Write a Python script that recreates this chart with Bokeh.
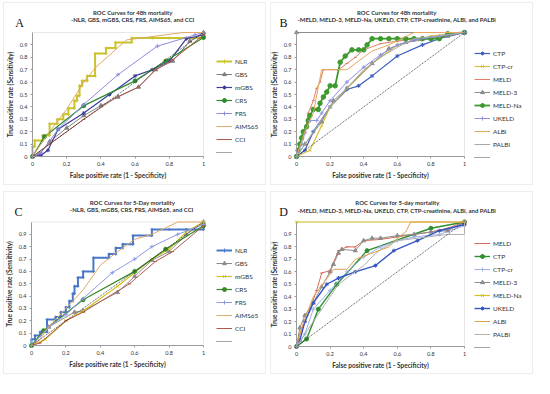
from bokeh.plotting import figure
from bokeh.layouts import gridplot
from bokeh.models import (Range1d, FixedTicker, CustomJSTickFormatter, Legend,
                          LegendItem, Label, BoxAnnotation)
from bokeh.embed import file_html
from bokeh.resources import INLINE

# ---------------- DATA ----------------
X_TICKS = [0, 0.2, 0.4, 0.6, 0.8, 1.0]
Y_TICKS = [0, 0.1, 0.2, 0.3, 0.4, 0.5, 0.6, 0.7, 0.8, 0.9]

TITLE_A = ["ROC Curves for 48h  mortality", "-NLR, GBS, mGBS, CRS, FRS, AIMS65,  and CCI"]
TITLE_B = ["ROC Curves for 48h  mortality", "-MELD, MELD-3, MELD-Na, UKELD, CTP, CTP-creatinine,  ALBi, and PALBi"]
TITLE_C = ["ROC Curves for 5-Day mortality", "-NLR, GBS, mGBS, CRS, FRS, AIMS65,  and CCI"]
TITLE_D = ["ROC Curves for 5-day mortality", "-MELD, MELD-3, MELD-Na, UKELD, CTP, CTP-creatinine,  ALBi, and PALBi"]

DIAG_X = [0, 1]
DIAG_Y = [0, 1]

# Panel A: 48h, NLR ... CCI
A_NLR_X = [0, 0, 0.013, 0.013, 0.06, 0.06, 0.1, 0.1, 0.145, 0.145, 0.18, 0.18, 0.21, 0.21, 0.245, 0.245,
           0.26, 0.26, 0.275, 0.275, 0.29, 0.29, 0.32, 0.32, 0.366, 0.366, 0.43, 0.43, 0.485, 0.485,
           0.58, 0.58, 0.7, 0.8, 0.9, 1.0, 1.0]
A_NLR_Y = [0, 0.08, 0.08, 0.13, 0.13, 0.17, 0.17, 0.265, 0.265, 0.30, 0.30, 0.34, 0.34, 0.39, 0.39, 0.45,
           0.45, 0.49, 0.49, 0.57, 0.57, 0.61, 0.61, 0.65, 0.65, 0.83, 0.83, 0.875, 0.875, 0.92,
           0.92, 0.955, 0.955, 0.955, 0.955, 0.955, 1.0]
A_GBS_X = [0, 0.04, 0.1, 0.2, 0.3, 0.4, 0.5, 0.62, 0.72, 0.82, 0.92, 1.0]
A_GBS_Y = [0, 0.02, 0.12, 0.23, 0.33, 0.41, 0.48, 0.56, 0.70, 0.77, 0.93, 1.0]
A_MGBS_X = [0, 0.05, 0.09, 0.15, 0.3, 0.45, 0.6, 0.7, 0.8, 0.9, 1.0]
A_MGBS_Y = [0, 0.01, 0.05, 0.22, 0.35, 0.50, 0.65, 0.70, 0.77, 0.95, 0.98]
A_CRS_X = [0, 0.07, 0.3, 0.6, 0.78, 1.0]
A_CRS_Y = [0, 0.16, 0.41, 0.61, 0.77, 0.96]
A_FRS_X = [0, 0.05, 0.15, 0.3, 0.5, 0.73, 0.95, 1.0]
A_FRS_Y = [0, 0.03, 0.22, 0.42, 0.66, 0.89, 0.98, 1.0]
A_AIMS_X = [0, 0.1, 0.2, 0.3, 0.37, 0.55, 0.88, 1.0]
A_AIMS_Y = [0, 0.2, 0.38, 0.6, 0.72, 0.94, 1.0, 1.0]
A_CCI_X = [0, 0.1, 0.3, 0.48, 0.62, 0.72, 0.82, 1.0]
A_CCI_Y = [0, 0.1, 0.3, 0.47, 0.56, 0.70, 0.78, 0.98]

# Panel B: 48h, liver scores
B_CTP_X = [0, 0.05, 0.1, 0.2, 0.3, 0.37, 0.45, 0.6, 0.75, 0.85, 1.0]
B_CTP_Y = [0, 0.05, 0.2, 0.4, 0.54, 0.57, 0.65, 0.81, 0.9, 0.95, 1.0]
B_CTPCR_X = [0, 0.08, 0.15, 0.2, 0.3, 0.45, 0.6, 0.8, 1.0]
B_CTPCR_Y = [0, 0.05, 0.25, 0.4, 0.55, 0.75, 0.9, 0.97, 1.0]
B_MELD_X = [0, 0.02, 0.05, 0.07, 0.1, 0.12, 0.14, 0.16, 0.25, 0.3, 0.35, 0.4, 0.5, 0.6, 0.7, 0.8, 0.9, 1.0]
B_MELD_Y = [0, 0.1, 0.2, 0.35, 0.45, 0.55, 0.6, 0.7, 0.7, 0.75, 0.8, 0.86, 0.91, 0.93, 0.95, 0.95, 0.98, 1.0]
B_MELD3_X = [0, 0.05, 0.15, 0.22, 0.3, 0.45, 0.55, 0.65, 0.8, 0.9, 1.0, 0]
B_MELD3_Y = [0, 0.1, 0.28, 0.45, 0.55, 0.75, 0.87, 0.92, 0.95, 0.97, 1.0, 1.0]
B_MELDNA_X = [0, 0.01, 0.02, 0.03, 0.04, 0.06, 0.07, 0.08, 0.1, 0.13, 0.14, 0.16, 0.18, 0.2, 0.23, 0.26,
              0.29, 0.33, 0.37, 0.4, 0.42, 0.45, 0.5, 0.55, 0.6, 0.65, 0.7, 0.75, 0.8, 0.85, 0.9, 1.0]
B_MELDNA_Y = [0, 0.05, 0.1, 0.15, 0.2, 0.24, 0.29, 0.33, 0.38, 0.38, 0.43, 0.48, 0.52, 0.57, 0.57, 0.76,
              0.81, 0.86, 0.86, 0.86, 0.9, 0.95, 0.95, 0.95, 0.95, 0.95, 0.95, 0.95, 0.95, 0.95, 0.99, 1.0]
B_UKELD_X = [0, 0.03, 0.05, 0.08, 0.12, 0.15, 0.2, 0.3, 0.4, 0.5, 0.6, 0.7, 0.85, 1.0]
B_UKELD_Y = [0, 0.1, 0.19, 0.29, 0.29, 0.35, 0.45, 0.6, 0.72, 0.82, 0.9, 0.94, 0.97, 1.0]
B_ALBI_X = [0, 0.05, 0.1, 0.15, 0.3, 0.35, 0.4, 0.45, 0.55, 0.7, 1.0]
B_ALBI_Y = [0, 0.2, 0.35, 0.7, 0.7, 0.75, 0.8, 0.85, 0.9, 1.0, 1.0]
B_PALBI_X = [0, 0.05, 0.1, 0.2, 0.3, 0.4, 0.5, 0.6, 0.7, 1.0]
B_PALBI_Y = [0, 0.1, 0.2, 0.4, 0.55, 0.7, 0.8, 0.88, 0.95, 1.0]

# Panel C: 5-day, NLR ... CCI
C_NLR_X = [0, 0, 0.02, 0.02, 0.05, 0.05, 0.09, 0.09, 0.14, 0.14, 0.17, 0.17, 0.2, 0.2, 0.22, 0.22, 0.24, 0.24,
           0.25, 0.25, 0.27, 0.27, 0.30, 0.30, 0.36, 0.36, 0.45, 0.45, 0.49, 0.49, 0.53, 0.53, 0.59, 0.59,
           0.70, 0.70, 0.8, 0.9, 1.0, 1.0]
C_NLR_Y = [0, 0.05, 0.05, 0.08, 0.08, 0.11, 0.11, 0.21, 0.21, 0.23, 0.23, 0.27, 0.27, 0.31, 0.31, 0.36, 0.36, 0.42,
           0.42, 0.48, 0.48, 0.55, 0.55, 0.60, 0.60, 0.71, 0.71, 0.74, 0.74, 0.79, 0.79, 0.82, 0.82, 0.89,
           0.89, 0.94, 0.94, 0.94, 0.94, 1.0]
C_GBS_X = [0, 0.1, 0.25, 0.3, 0.5, 0.6, 0.7, 0.8, 0.9, 1.0]
C_GBS_Y = [0, 0.15, 0.27, 0.28, 0.43, 0.56, 0.69, 0.76, 0.9, 1.0]
C_MGBS_X = [0, 0.08, 0.2, 0.3, 0.5, 0.7, 0.8, 0.9, 1.0]
C_MGBS_Y = [0, 0.05, 0.2, 0.28, 0.48, 0.7, 0.78, 0.92, 1.0]
C_CRS_X = [0, 0.07, 0.3, 0.6, 0.78, 1.0]
C_CRS_Y = [0, 0.12, 0.37, 0.6, 0.78, 0.97]
C_FRS_X = [0, 0.1, 0.2, 0.3, 0.47, 0.6, 0.7, 0.85, 1.0]
C_FRS_Y = [0, 0.15, 0.25, 0.38, 0.59, 0.7, 0.8, 0.9, 0.98]
C_AIMS_X = [0, 0.05, 0.1, 0.2, 0.3, 0.4, 0.5, 0.6, 0.7, 0.85, 1.0]
C_AIMS_Y = [0, 0.05, 0.15, 0.3, 0.45, 0.65, 0.76, 0.86, 0.9, 1.0, 1.0]
C_CCI_X = [0, 0.05, 0.2, 0.3, 0.57, 0.72, 0.82, 1.0]
C_CCI_Y = [0, 0.02, 0.2, 0.27, 0.5, 0.68, 0.76, 0.97]

# Panel D: 5-day, liver scores
D_MELD_X = [0, 0.02, 0.05, 0.08, 0.12, 0.15, 0.2, 0.25, 0.3, 0.35, 0.4, 0.5, 0.6, 0.7, 0.8, 0.9, 1.0]
D_MELD_Y = [0, 0.1, 0.2, 0.3, 0.45, 0.59, 0.61, 0.77, 0.8, 0.8, 0.85, 0.86, 0.88, 0.9, 0.92, 0.95, 1.0]
D_CTP_X = [0, 0.06, 0.13, 0.24, 0.42, 0.8, 1.0]
D_CTP_Y = [0, 0.06, 0.3, 0.5, 0.77, 0.95, 1.0]
D_CTPCR_X = [0, 0.05, 0.1, 0.2, 0.3, 0.4, 0.5, 0.6, 0.7, 0.85, 1.0]
D_CTPCR_Y = [0, 0.1, 0.3, 0.45, 0.6, 0.72, 0.8, 0.85, 0.88, 0.9, 0.97]
D_MELD3_X = [0, 0.02, 0.05, 0.1, 0.15, 0.2, 0.22, 0.25, 0.27, 0.35, 0.4, 0.45, 0.5, 0.6, 0.7, 0.8, 0.9, 1.0]
D_MELD3_Y = [0, 0.15, 0.25, 0.35, 0.48, 0.6, 0.66, 0.75, 0.78, 0.77, 0.85, 0.87, 0.87, 0.89, 0.9, 0.92, 0.93, 1.0]
D_MELDNA_X = [0, 1.0]
D_MELDNA_Y = [1.0, 1.0]
D_UKELD_X = [0, 0.02, 0.05, 0.1, 0.18, 0.25, 0.35, 0.47, 0.58, 0.72, 0.85, 1.0]
D_UKELD_Y = [0, 0.05, 0.2, 0.35, 0.5, 0.55, 0.6, 0.65, 0.77, 0.85, 0.93, 0.98]
D_ALBI_X = [0, 0.03, 0.1, 0.2, 0.22, 0.3, 0.35, 0.45, 0.55, 0.6, 0.65, 0.68, 1.0]
D_ALBI_Y = [0, 0.15, 0.4, 0.58, 0.62, 0.62, 0.7, 0.75, 0.8, 0.87, 0.92, 1.0, 1.0]
D_PALBI_X = [0, 0.05, 0.1, 0.15, 0.2, 0.25, 0.35, 0.4, 0.45, 0.5, 0.6, 0.9, 1.0, 1.0]
D_PALBI_Y = [0, 0.1, 0.2, 0.3, 0.4, 0.5, 0.6, 0.65, 0.72, 0.78, 0.85, 0.9, 0.9, 1.0]

# --------------- STYLE / BUILD ----------------
FONT = "Lato"
W, H = 267, 189
TXT = "#333333"


def make_panel(letter, title, series, geom, leg_pos, title_y):
    # geom: pixel positions (from panel top-left) of x=0, x=1, y=1, y=0
    px0, px1, py1, py0 = geom
    ux = px1 - px0
    uy = py0 - py1
    xr = Range1d(-px0 / ux, (W - px0) / ux)
    yr = Range1d(-(H - py0) / uy, 1 + py1 / uy)
    p = figure(width=W, height=H, output_backend="svg", toolbar_location=None,
               x_range=xr, y_range=yr, min_border=0,
               min_border_left=0, min_border_right=0, min_border_top=0, min_border_bottom=0)
    p.background_fill_color = "white"
    p.border_fill_color = "white"
    p.outline_line_color = None
    p.grid.visible = False

    # panel box (inset a little, like the separate boxes of the figure)
    p.add_layout(BoxAnnotation(left=3, right=W - 2, bottom=5, top=H - 2,
                               left_units="screen", right_units="screen",
                               bottom_units="screen", top_units="screen",
                               fill_alpha=0, line_color="#c4c4c4", line_width=1,
                               level="underlay"))
    # plot-area frame (top and right edges)
    p.add_layout(BoxAnnotation(left=0, right=1, bottom=0, top=1, fill_alpha=0,
                               line_color="#b4b4b4", line_width=1, level="underlay"))

    fmt = CustomJSTickFormatter(code="return String(Math.round(tick*10)/10);")
    p.xaxis.ticker = FixedTicker(ticks=X_TICKS)
    p.yaxis.ticker = FixedTicker(ticks=Y_TICKS)
    for ax in (p.xaxis[0], p.yaxis[0]):
        ax.fixed_location = 0
        ax.bounds = (0, 1)
        ax.formatter = fmt
        ax.axis_line_color = "#9a9a9a"
        ax.major_tick_line_color = "#9a9a9a"
        ax.major_tick_out = 2
        ax.major_tick_in = 0
        ax.minor_tick_line_color = None
        ax.major_label_text_font = FONT
        ax.major_label_text_font_size = "5.5px"
        ax.major_label_text_color = TXT
        ax.major_label_standoff = 3
        ax.axis_label_text_font = FONT
        ax.axis_label_text_font_size = "6.5px"
        ax.axis_label_text_font_style = "bold"
        ax.axis_label_text_color = TXT
        ax.axis_label_standoff = 3
    p.xaxis.axis_label = "False positive rate (1 - Specificity)"
    p.yaxis.axis_label = "True positive rate (Sensitivity)"

    items = []
    for name, xs, ys, color, width, marker, msize in series:
        r = p.line(xs, ys, line_color=color, line_width=width)
        rs = [r]
        if marker:
            s = p.scatter(xs, ys, marker=marker, size=msize, line_color=color,
                          fill_color=color, line_width=1)
            rs.append(s)
        items.append(LegendItem(label=name, renderers=rs))
    d = p.line(DIAG_X, DIAG_Y, line_color="#222222", line_width=0.8, line_dash="1 1")
    items.append(LegendItem(label=" ", renderers=[d]))

    leg = Legend(items=items, location=leg_pos, padding=0, margin=0,
                 spacing=3, glyph_width=16, glyph_height=10, label_height=10,
                 label_standoff=3, background_fill_alpha=0, border_line_alpha=0,
                 label_text_font=FONT, label_text_font_size="6.5px",
                 label_text_color=TXT)
    p.add_layout(leg, "center")

    p.add_layout(Label(x=px0 - 13, y=H - 22.5, x_units="screen", y_units="screen",
                       text=letter, text_font="Liberation Serif", text_font_size="12px",
                       text_baseline="middle", text_align="center", text_color="#111111"))
    cx = px0 + 101
    for i, t in enumerate(title):
        p.add_layout(Label(x=cx, y=H - title_y - 7.7 * i, x_units="screen", y_units="screen",
                           text=t, text_font=FONT, text_font_size="6px",
                           text_font_style="bold", text_baseline="middle", text_align="center",
                           text_color=TXT))
    return p


pa = make_panel("A", TITLE_A, [
    ("NLR", A_NLR_X, A_NLR_Y, "#c9c42a", 2.0, "cross", 3),
    ("GBS", A_GBS_X, A_GBS_Y, "#808080", 1.0, "triangle", 4),
    ("mGBS", A_MGBS_X, A_MGBS_Y, "#3c3c9c", 1.2, "asterisk", 4),
    ("CRS", A_CRS_X, A_CRS_Y, "#2f8a2f", 1.2, "circle", 4),
    ("FRS", A_FRS_X, A_FRS_Y, "#8c8ce0", 1.0, "cross", 4),
    ("AIMS65", A_AIMS_X, A_AIMS_Y, "#e2a96a", 1.0, None, 0),
    ("CCI", A_CCI_X, A_CCI_Y, "#b0584c", 1.0, "dash", 3),
], (32, 203, 32, 156), (216, 32), 11.5)

pb = make_panel("B", TITLE_B, [
    ("CTP", B_CTP_X, B_CTP_Y, "#3f5fc0", 1.2, "asterisk", 4),
    ("CTP-cr", B_CTPCR_X, B_CTPCR_Y, "#d8c23a", 1.2, "x", 4),
    ("MELD", B_MELD_X, B_MELD_Y, "#e07e68", 1.0, "dash", 3),
    ("MELD-3", B_MELD3_X, B_MELD3_Y, "#8c8c8c", 1.0, "triangle", 4),
    ("MELD-Na", B_MELDNA_X, B_MELDNA_Y, "#3d9a2d", 1.8, "circle", 4.5),
    ("UKELD", B_UKELD_X, B_UKELD_Y, "#8f8fe6", 1.0, "cross", 4),
    ("ALBi", B_ALBI_X, B_ALBI_Y, "#e3a95e", 1.0, None, 0),
    ("PALBi", B_PALBI_X, B_PALBI_Y, "#a8a8a8", 1.0, None, 0),
], (29, 197, 32, 156), (207, 27), 11.5)

pc = make_panel("C", TITLE_C, [
    ("NLR", C_NLR_X, C_NLR_Y, "#4a78c8", 2.0, "cross", 3),
    ("GBS", C_GBS_X, C_GBS_Y, "#8c8c8c", 1.0, "triangle", 4),
    ("mGBS", C_MGBS_X, C_MGBS_Y, "#d2c225", 1.2, "x", 4),
    ("CRS", C_CRS_X, C_CRS_Y, "#3a8a2a", 1.2, "circle", 4),
    ("FRS", C_FRS_X, C_FRS_Y, "#8f98e4", 1.0, "cross", 4),
    ("AIMS65", C_AIMS_X, C_AIMS_Y, "#e2a96a", 1.0, None, 0),
    ("CCI", C_CCI_X, C_CCI_Y, "#b0584c", 1.0, "dash", 3),
], (31, 203, 32.5, 156), (216, 32), 12.5)

pd_ = make_panel("D", TITLE_D, [
    ("MELD", D_MELD_X, D_MELD_Y, "#d96a55", 1.0, "dash", 3),
    ("CTP", D_CTP_X, D_CTP_Y, "#2f8f2f", 1.4, "circle", 4),
    ("CTP-cr", D_CTPCR_X, D_CTPCR_Y, "#9fb0ea", 1.0, "cross", 4),
    ("MELD-3", D_MELD3_X, D_MELD3_Y, "#8c8c8c", 1.0, "triangle", 4),
    ("MELD-Na", D_MELDNA_X, D_MELDNA_Y, "#d8c020", 1.2, "x", 4),
    ("UKELD", D_UKELD_X, D_UKELD_Y, "#3456c4", 1.4, "asterisk", 4),
    ("ALBi", D_ALBI_X, D_ALBI_Y, "#e3a050", 1.0, None, 0),
    ("PALBi", D_PALBI_X, D_PALBI_Y, "#b0b0b0", 1.0, None, 0),
], (29, 197, 32.5, 157), (207, 26), 13)

grid = gridplot([[pa, pb], [pc, pd_]], toolbar_location=None)

open("out.html", "w").write(file_html(grid, INLINE))
